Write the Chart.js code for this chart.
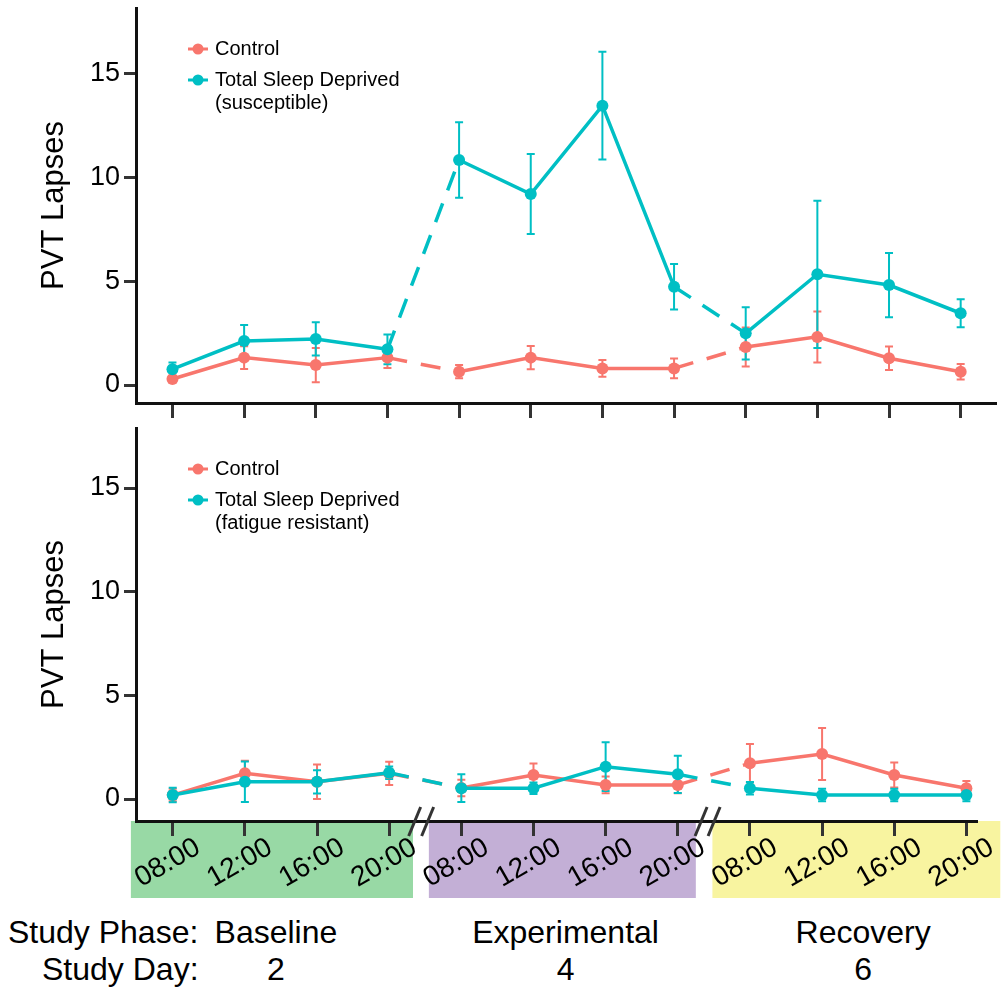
<!DOCTYPE html>
<html>
<head>
<meta charset="utf-8">
<title>PVT Lapses</title>
<script src="https://cdn.jsdelivr.net/npm/chart.js@4.4.1/dist/chart.umd.min.js"></script>
<style>
  body { margin: 0; background: #fff; width: 1002px; height: 989px; position: relative; overflow: hidden; font-family: "Liberation Sans", Arial, sans-serif; }
  canvas { position: absolute; left: 0; }
  #topCanvas { top: 0; }
  #bottomCanvas { top: 420px; }
  .txt { position: absolute; font-size: 32px; line-height: 32px; color: #000; white-space: nowrap; }
</style>
</head>
<body>
<canvas id="topCanvas" width="1002" height="425"></canvas>
<canvas id="bottomCanvas" width="1002" height="480"></canvas>
<div id="footer"></div>
<script>
// categories
const phases = ['Baseline', 'Experimental', 'Recovery'];
const studyDays = ['2', '4', '6'];
const timeLabels = ['08:00', '12:00', '16:00', '20:00'];
const yTicks = [0, 5, 10, 15];

// top panel: susceptible
const controlTop    = [0.29, 1.32, 0.96, 1.32, 0.64, 1.32, 0.80, 0.80, 1.83, 2.32, 1.29, 0.64];
const controlTopErr = [0.15, 0.55, 0.83, 0.50, 0.32, 0.56, 0.40, 0.48, 0.94, 1.23, 0.57, 0.37];
const tsdTop        = [0.76, 2.12, 2.22, 1.72, 10.85, 9.21, 13.47, 4.74, 2.49, 5.34, 4.82, 3.46];
const tsdTopErr     = [0.32, 0.77, 0.80, 0.72, 1.82, 1.93, 2.60, 1.10, 1.26, 3.55, 1.55, 0.67];

// bottom panel: fatigue resistant
const controlBottom    = [0.19, 1.24, 0.83, 1.24, 0.53, 1.16, 0.68, 0.68, 1.72, 2.17, 1.16, 0.52];
const controlBottomErr = [0.30, 0.60, 0.83, 0.56, 0.40, 0.55, 0.40, 0.40, 0.93, 1.25, 0.60, 0.35];
const tsdBottom        = [0.19, 0.83, 0.83, 1.27, 0.52, 0.52, 1.56, 1.19, 0.52, 0.19, 0.19, 0.19];
const tsdBottomErr     = [0.35, 0.98, 0.56, 0.30, 0.67, 0.28, 1.18, 0.90, 0.30, 0.30, 0.30, 0.30];

const salmon = '#F8766D';
const teal = '#00BFC4';
const fontFamily = "'Liberation Sans', Arial, sans-serif";
const boxColors = ['#98d9a5', '#c3afd6', '#f8f4a0'];
const boxPad = [[-0.58, 0.33], [-0.45, 0.25], [-0.52, 0.47]];
const footerShift = [-5, -4, 5];

Chart.defaults.font.family = fontFamily;
Chart.defaults.color = '#000';

let toPoints = function (values) {
  return values.map((v, i) => ({ x: i, y: v }));
};

// error bars drawn under the lines
let errorBarPlugin = {
  id: 'errorBars',
  beforeDatasetsDraw(chart) {
    const ctx = chart.ctx;
    const xs = chart.scales.x;
    const ys = chart.scales.y;
    chart.data.datasets.forEach(function (ds) {
      ctx.save();
      ctx.strokeStyle = ds.borderColor;
      ctx.lineWidth = 2;
      ds.data.forEach(function (p, i) {
        const e = ds.errors[i];
        const x = xs.getPixelForValue(p.x);
        const y1 = ys.getPixelForValue(p.y + e);
        const y2 = ys.getPixelForValue(p.y - e);
        ctx.beginPath();
        ctx.moveTo(x, y1); ctx.lineTo(x, y2);
        ctx.moveTo(x - 4, y1); ctx.lineTo(x + 4, y1);
        ctx.moveTo(x - 4, y2); ctx.lineTo(x + 4, y2);
        ctx.stroke();
      });
      ctx.restore();
    });
  }
};

// legend in the upper left of the plot
let cornerLegendPlugin = {
  id: 'cornerLegend',
  afterDraw(chart) {
    const ctx = chart.ctx;
    const top = chart.chartArea.top;
    const rows = [41, 72];
    ctx.save();
    ctx.font = '20px ' + fontFamily;
    ctx.textBaseline = 'middle';
    chart.data.datasets.forEach(function (ds, i) {
      const y = top + rows[i];
      ctx.strokeStyle = ds.borderColor;
      ctx.fillStyle = ds.borderColor;
      ctx.lineWidth = 3;
      ctx.beginPath();
      ctx.moveTo(188, y); ctx.lineTo(208, y);
      ctx.stroke();
      ctx.beginPath();
      ctx.arc(198, y, 5.5, 0, Math.PI * 2);
      ctx.fill();
      ctx.fillStyle = '#000';
      ds.label.forEach(function (line, j) {
        ctx.fillText(line, 215, y + j * 23);
      });
    });
    ctx.restore();
  }
};

// coloured phase boxes behind the time labels
let phaseBoxPlugin = {
  id: 'phaseBoxes',
  beforeDraw(chart) {
    const ctx = chart.ctx;
    const xs = chart.scales.x;
    const y = chart.chartArea.bottom;
    ctx.save();
    phases.forEach(function (name, p) {
      const x1 = xs.getPixelForValue(p * 4 + boxPad[p][0]);
      const x2 = xs.getPixelForValue(p * 4 + 3 + boxPad[p][1]);
      ctx.fillStyle = boxColors[p];
      ctx.fillRect(x1, y, x2 - x1, 77);
    });
    ctx.restore();
  },
  afterDraw(chart) {
    const ctx = chart.ctx;
    const xs = chart.scales.x;
    const y = chart.chartArea.bottom;
    ctx.save();
    // rotated time labels
    ctx.font = '28px ' + fontFamily;
    ctx.fillStyle = '#000';
    ctx.textAlign = 'center';
    ctx.textBaseline = 'middle';
    xs.ticks.forEach(function (t) {
      const x = xs.getPixelForValue(t.value) - 5;
      ctx.save();
      ctx.translate(x, y + 42);
      ctx.rotate(-Math.PI / 6);
      ctx.fillText(timeLabels[t.value % 4], 0, 0);
      ctx.restore();
    });
    // axis break marks
    ctx.strokeStyle = '#333';
    ctx.lineWidth = 3;
    [3.45, 7.42].forEach(function (v) {
      const cx = xs.getPixelForValue(v);
      [-7, 6].forEach(function (dx) {
        ctx.beginPath();
        ctx.moveTo(cx + dx - 6, y + 15);
        ctx.lineTo(cx + dx + 6, y - 14);
        ctx.stroke();
      });
    });
    ctx.restore();
  }
};

let makePanel = function (canvasId, control, controlErr, tsd, tsdErr, tsdLabel, yRange, xMax, rightPad, xHeight, extraPlugins) {
  const ctx = document.getElementById(canvasId).getContext('2d');
  const dashAtBreak = c => (c.p0DataIndex % 4 === 3 ? [20, 14] : undefined);
  const lineStyle = function (color) {
    return {
      borderColor: color, backgroundColor: color, borderWidth: 3.5,
      pointRadius: 6, pointBorderWidth: 0, pointBackgroundColor: color,
      tension: 0, segment: { borderDash: dashAtBreak }
    };
  };
  return new Chart(ctx, {
    type: 'line',
    data: {
      datasets: [
        Object.assign({ label: ['Control'], data: toPoints(control), errors: controlErr, order: 1 }, lineStyle(salmon)),
        Object.assign({ label: tsdLabel, data: toPoints(tsd), errors: tsdErr, order: 0 }, lineStyle(teal))
      ]
    },
    options: {
      responsive: false,
      animation: false,
      layout: { padding: { top: 8, right: rightPad, left: 0, bottom: 0 } },
      plugins: { legend: { display: false }, tooltip: { enabled: false } },
      scales: {
        x: {
          type: 'linear', min: -0.509, max: xMax,
          afterBuildTicks: s => { s.ticks = controlTop.map((v, i) => ({ value: i })); },
          afterFit: s => { s.height = xHeight; },
          ticks: { display: false },
          grid: { display: true, drawOnChartArea: false, drawTicks: true, tickLength: 15, tickWidth: 3, tickColor: '#333' },
          border: { display: true, width: 3, color: '#111' }
        },
        y: {
          min: yRange[0], max: yRange[1],
          afterBuildTicks: s => { s.ticks = yTicks.map(v => ({ value: v })); },
          afterFit: s => { s.width = 136; s.paddingTop = 0; s.paddingBottom = 0; },
          ticks: { font: { size: 27 }, color: '#000', padding: 4 },
          grid: { display: true, drawOnChartArea: false, drawTicks: true, tickLength: 12, tickWidth: 3, tickColor: '#333' },
          border: { display: true, width: 3, color: '#111' },
          title: { display: true, text: 'PVT Lapses', font: { size: 31 }, color: '#000', padding: { top: 36, bottom: 0 } }
        }
      }
    },
    plugins: [errorBarPlugin, cornerLegendPlugin].concat(extraPlugins)
  });
};

window.topChart = makePanel('topCanvas', controlTop, controlTopErr, tsdTop, tsdTopErr,
  ['Total Sleep Deprived', '(susceptible)'], [-0.868, 18.18], 11.493, 0, 22, []);

window.bottomChart = makePanel('bottomCanvas', controlBottom, controlBottomErr, tsdBottom, tsdBottomErr,
  ['Total Sleep Deprived', '(fatigue resistant)'], [-1.061, 17.894], 11.147, 25, 79, [phaseBoxPlugin]);

// study phase / day text under the chart
let addFooter = function () {
  const footer = document.getElementById('footer');
  const xs = window.bottomChart.scales.x;
  footer.innerHTML += '<div class="txt" style="left:8px;top:916px">Study Phase:</div>';
  footer.innerHTML += '<div class="txt" style="left:42px;top:953px">Study Day:</div>';
  phases.forEach(function (name, p) {
    const center = (xs.getPixelForValue(p * 4) + xs.getPixelForValue(p * 4 + 3)) / 2 + footerShift[p];
    footer.innerHTML += `<div class="txt" style="left:${center}px;top:916px;transform:translateX(-50%)">${name}</div>`;
    footer.innerHTML += `<div class="txt" style="left:${center}px;top:953px;transform:translateX(-50%)">${studyDays[p]}</div>`;
  });
};
addFooter();
</script>
</body>
</html>
